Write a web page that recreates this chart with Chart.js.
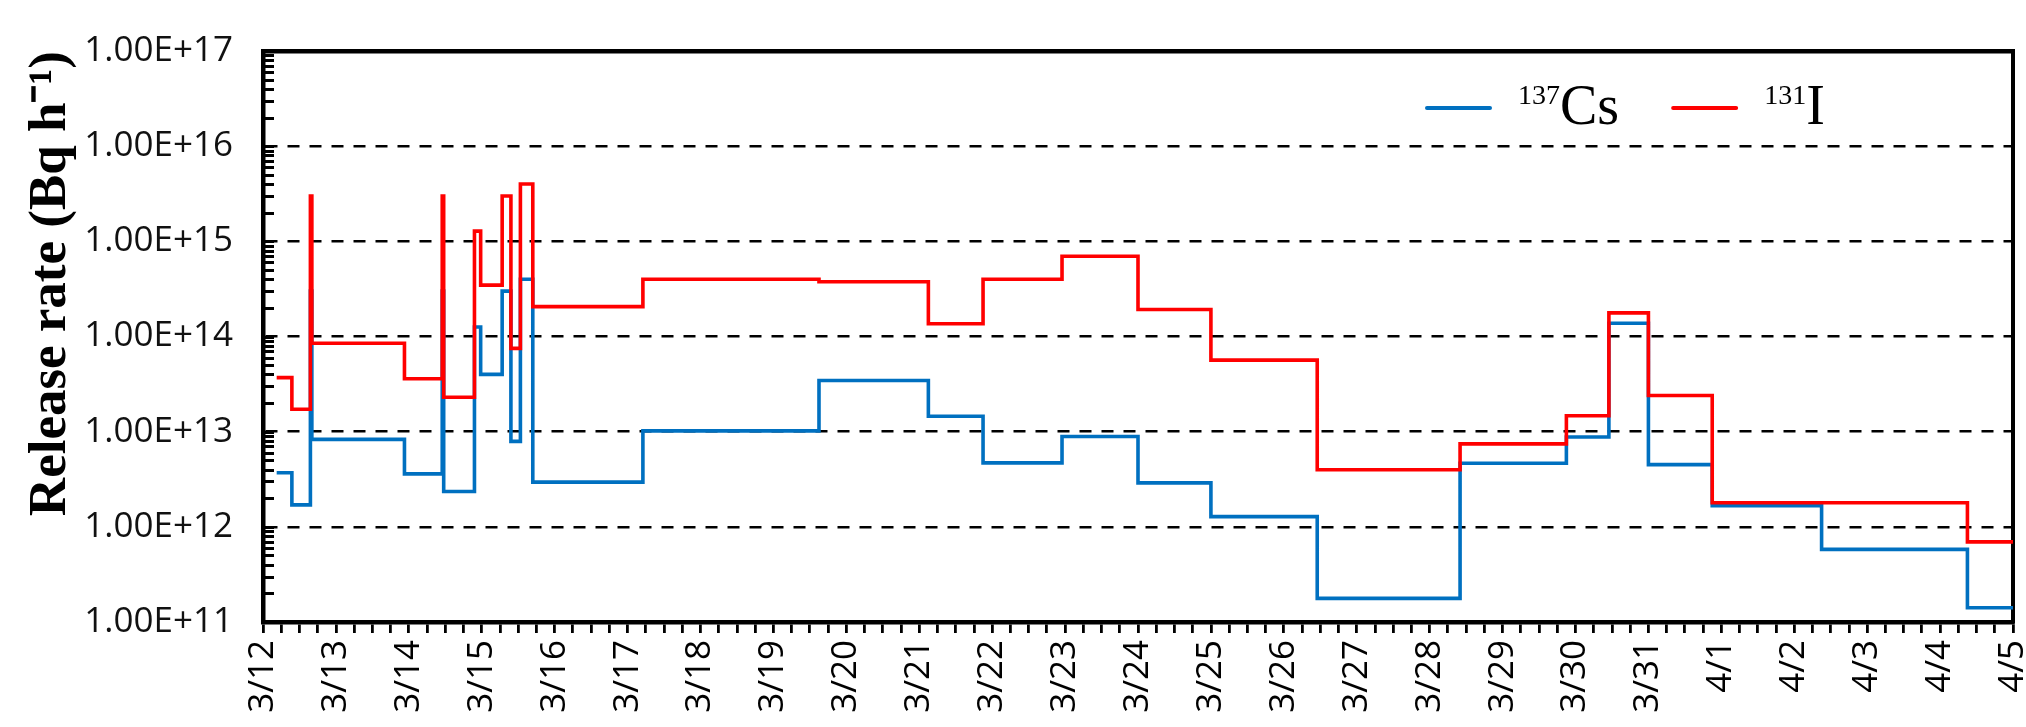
<!DOCTYPE html>
<html>
<head>
<meta charset="utf-8">
<title>Release rate of 137Cs and 131I</title>
<script src="https://cdn.jsdelivr.net/npm/chart.js@4.4.1/dist/chart.umd.min.js"></script>
<style>
  html, body { margin: 0; padding: 0; background: #ffffff; }
  #wrap { width: 2026px; height: 727px; }
</style>
</head>
<body>
<div id="wrap"><canvas id="c" width="2026" height="727"></canvas></div>
<script>
// Calendar labels for each whole day on the time axis (day 0 = 3/12 00:00)
const dayLabels = ['3/12','3/13','3/14','3/15','3/16','3/17','3/18','3/19','3/20','3/21','3/22','3/23',
  '3/24','3/25','3/26','3/27','3/28','3/29','3/30','3/31','4/1','4/2','4/3','4/4','4/5'];

// Decade labels of the rate axis, 1e11 .. 1e17
const rateTickLabels = ['1.00E+11','1.00E+12','1.00E+13','1.00E+14','1.00E+15','1.00E+16','1.00E+17'];

// Nuclide names for the key
const massNumbers = ['137', '131'];
const elementSymbols = ['Cs', 'I'];

// 137Cs: start of each release interval (days after 3/12 00:00) and its rate (Bq/h)
const csDays  = [0.1875, 0.396, 0.65, 0.67, 1.94, 2.458, 2.478, 2.90, 2.985, 3.28, 3.40, 3.53, 3.70,
  5.21, 7.625, 9.125, 9.875, 10.958, 12.0, 13.0, 14.458, 16.417, 17.875, 18.458, 19.0, 19.875,
  21.375, 23.375, 24.0];
const csRates = [3.7e12, 1.7e12, 3.0e14, 8.3e12, 3.6e12, 3.0e14, 2.35e12, 1.26e14, 4.0e13, 3.0e14, 7.9e12, 4.0e14, 2.95e12,
  1.02e13, 3.45e13, 1.45e13, 4.7e12, 8.9e12, 2.9e12, 1.28e12, 1.77e11, 4.65e12, 8.8e12, 1.38e14, 4.5e12, 1.67e12,
  5.8e11, 1.41e11, 1.41e11];

// 131I: start of each release interval (days after 3/12 00:00) and its rate (Bq/h)
const iDays  = [0.1875, 0.396, 0.65, 0.67, 1.94, 2.458, 2.478, 2.90, 2.985, 3.28, 3.40, 3.53, 3.70,
  5.21, 7.625, 9.125, 9.875, 10.958, 12.0, 13.0, 14.458, 16.417, 17.875, 18.458, 19.0, 19.875,
  23.375, 24.0];
const iRates = [3.7e13, 1.72e13, 3.0e15, 8.5e13, 3.6e13, 3.0e15, 2.3e13, 1.28e15, 3.47e14, 3.0e15, 7.5e13, 4.0e15, 2.06e14,
  4.0e14, 3.76e14, 1.36e14, 4.0e14, 6.96e14, 1.92e14, 5.64e13, 3.98e12, 7.45e12, 1.47e13, 1.77e14, 2.4e13, 1.79e12,
  6.95e11, 6.95e11];

const CS_COLOR = '#0070C0';
const I_COLOR = '#FF0000';

const toPoints = (days, rates) => days.map((d, k) => ({ x: d, y: rates[k] }));

// tick marks every 6 hours along the time axis
const quarterDays = [];
for (let k = 0; k <= 96; k++) quarterDays.push(k / 4);

// tick marks at 1..9 x each decade on the rate axis
const rateTicks = [];
for (let e = 11; e < 17; e++) {
  for (let m = 1; m <= 9; m++) rateTicks.push(m * Math.pow(10, e));
}
rateTicks.push(1e17);

const isDecade = v => {
  const e = Math.round(Math.log10(v));
  return Math.abs(v - Math.pow(10, e)) < 1e-6 * v;
};

// Inward rate-axis tick marks and the key drawn inside the plot
const plotExtras = {
  id: 'plotExtras',
  afterDatasetsDraw(chart) {
    const ctx = chart.ctx;
    const yScale = chart.scales.y;
    const left = chart.chartArea.left;

    ctx.save();
    ctx.fillStyle = '#000000';
    rateTicks.forEach(v => {
      const py = Math.round(yScale.getPixelForValue(v));
      ctx.fillRect(left, py - 1, 11, 3);
    });
    ctx.restore();

    const colors = [CS_COLOR, I_COLOR];
    const lineY = 108;
    const lineLen = 63;
    let x = 1427;
    ctx.save();
    ctx.textBaseline = 'alphabetic';
    ctx.textAlign = 'left';
    ctx.fillStyle = '#000000';
    for (let k = 0; k < massNumbers.length; k++) {
      ctx.strokeStyle = colors[k];
      ctx.lineWidth = 4;
      ctx.lineCap = 'round';
      ctx.beginPath();
      ctx.moveTo(x, lineY);
      ctx.lineTo(x + lineLen, lineY);
      ctx.stroke();
      let tx = x + lineLen + 28;
      ctx.font = '28px "Liberation Serif"';
      ctx.fillText(massNumbers[k], tx, 104);
      tx += ctx.measureText(massNumbers[k]).width;
      ctx.font = '56px "Liberation Serif"';
      ctx.fillText(elementSymbols[k], tx, 124);
      tx += ctx.measureText(elementSymbols[k]).width;
      x = tx + 54;
    }
    ctx.restore();
  }
};

new Chart(document.getElementById('c'), {
  type: 'line',
  data: {
    datasets: [
      {
        label: '¹³⁷Cs',
        data: toPoints(csDays, csRates),
        borderColor: CS_COLOR,
        backgroundColor: CS_COLOR,
        borderWidth: 3.6,
        stepped: true,
        pointRadius: 0,
        fill: false,
        borderJoinStyle: 'miter',
        order: 2
      },
      {
        label: '¹³¹I',
        data: toPoints(iDays, iRates),
        borderColor: I_COLOR,
        backgroundColor: I_COLOR,
        borderWidth: 3.6,
        stepped: true,
        pointRadius: 0,
        fill: false,
        borderJoinStyle: 'miter',
        order: 1
      }
    ]
  },
  options: {
    responsive: false,
    animation: false,
    devicePixelRatio: 1,
    layout: { padding: { top: 51, right: 13, bottom: 0, left: 0 } },
    plugins: {
      legend: { display: false },
      tooltip: { enabled: false }
    },
    scales: {
      x: {
        type: 'linear',
        position: 'bottom',
        min: 0,
        max: 24,
        afterBuildTicks: s => { s.ticks = quarterDays.map(v => ({ value: v, major: Number.isInteger(v) })); },
        ticks: {
          autoSkip: false,
          maxRotation: 90,
          minRotation: 90,
          padding: 7,
          color: '#000000',
          font: { family: 'Open Sans', size: 35 },
          callback: v => (Number.isInteger(v) ? dayLabels[v] : '')
        },
        grid: { drawOnChartArea: false, color: '#000000', lineWidth: 2.8, tickLength: 11 },
        border: { color: '#000000', width: 4.5 },
        afterFit: s => { s.height = 105; s.paddingLeft = 0; s.paddingRight = 0; }
      },
      y: {
        type: 'logarithmic',
        position: 'left',
        min: 1e11,
        max: 1e17,
        afterBuildTicks: s => { s.ticks = rateTicks.map(v => ({ value: v, major: isDecade(v) })); },
        ticks: {
          autoSkip: false,
          padding: 30,
          color: '#111111',
          font: { family: 'Open Sans', size: 35 },
          callback: v => (isDecade(v) ? rateTickLabels[Math.round(Math.log10(v)) - 11] : '')
        },
        grid: {
          color: c => (c.tick && isDecade(c.tick.value) && c.tick.value > 1.5e11 && c.tick.value < 5e16)
            ? '#000000' : 'rgba(0,0,0,0)',
          lineWidth: 2.6,
          drawTicks: false
        },
        border: { color: '#000000', width: 4.5, dash: [12, 10] },
        title: {
          display: true,
          text: 'Release rate (Bq h⁻¹)',
          align: 'end',
          color: '#000000',
          font: { family: 'Liberation Serif', size: 53, weight: 'bold' },
          padding: { top: 20, bottom: 0 }
        },
        afterFit: s => { s.width = 263; s.paddingTop = 0; s.paddingBottom = 0; }
      },
      xTop: {
        type: 'linear',
        position: 'top',
        min: 0,
        max: 24,
        ticks: { display: false },
        grid: { display: false, drawTicks: false },
        border: { display: true, color: '#000000', width: 4.5 },
        afterFit: s => { s.height = 0; s.paddingLeft = 0; s.paddingRight = 0; }
      },
      yRight: {
        type: 'linear',
        position: 'right',
        min: 0,
        max: 1,
        ticks: { display: false },
        grid: { display: false, drawTicks: false },
        border: { display: true, color: '#000000', width: 4 },
        afterFit: s => { s.width = 0; s.paddingTop = 0; s.paddingBottom = 0; }
      }
    }
  },
  plugins: [plotExtras]
});
</script>
</body>
</html>
